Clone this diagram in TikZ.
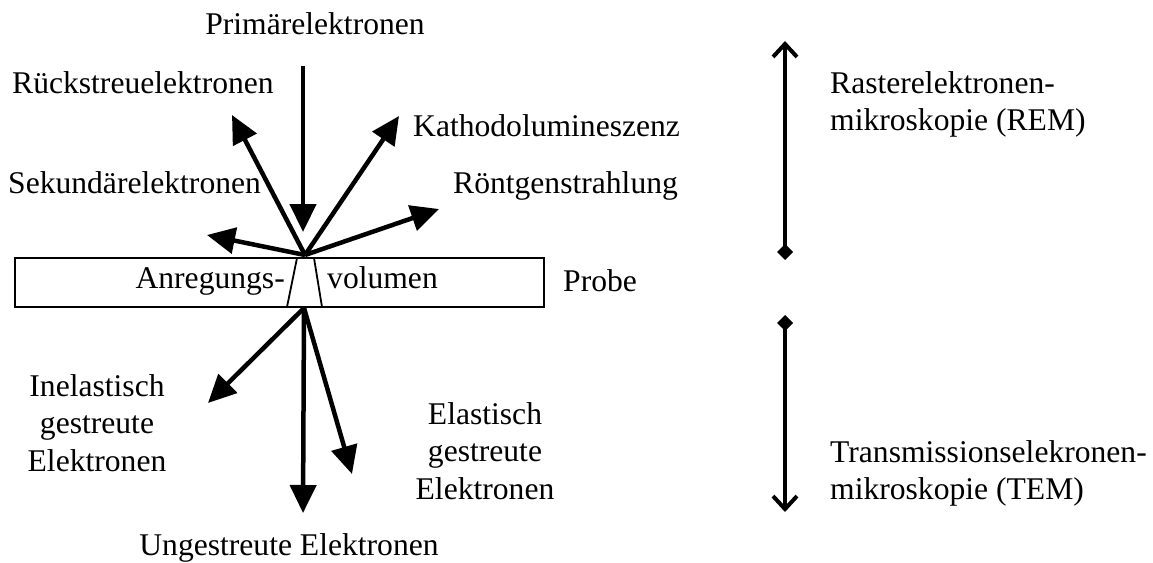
\documentclass[tikz,border=0pt]{standalone}
\usepackage{fontspec}
\setmainfont{Liberation Serif}
\usetikzlibrary{arrows.meta}
\begin{document}
\begin{tikzpicture}[x=1pt,y=-1pt,
  txt/.style={inner sep=0pt, font=\fontsize{31.6}{37.5}\selectfont},
  ray/.style={line width=4.5pt, -{Triangle[length=28pt,width=26pt]}},
  rangearrow/.style={line width=4pt, {Diamond[length=16pt,width=16pt]}-{Straight Barb[length=13pt,width=24pt]}}]
\useasboundingbox (0,0) rectangle (1153,562);
% sample
\draw[line width=2.7pt] (15,258) rectangle (544,307);
\coordinate (tl) at (297,258);
\coordinate (tr) at (314,258);
\coordinate (bl) at (287,307);
\coordinate (br) at (322,307);
\draw[line width=1.8pt] (tl) -- (bl) (tr) -- (br);
% sources
\coordinate (src) at (305,255);
\coordinate (bsrc) at (304,308);
\coordinate (pstart) at (303,66);
\coordinate (ptip) at (303,232);
\coordinate (rtip) at (232,115);
\coordinate (ktip) at (399,116);
\coordinate (stip) at (207,235);
\coordinate (xtip) at (439,209);
\coordinate (itip) at (208,403);
\coordinate (utip) at (303,513);
\coordinate (etip) at (352,474);
\draw[ray] (pstart) -- (ptip);
\draw[ray] (src) -- (rtip);
\draw[ray] (src) -- (ktip);
\draw[ray] (src) -- (stip);
\draw[ray] (src) -- (xtip);
\draw[ray] (bsrc) -- (itip);
\draw[ray] (bsrc) -- (utip);
\draw[ray] (bsrc) -- (etip);
% texts
\node[txt, anchor=base] (prim) at (315,34) {Primärelektronen};
\node[txt, anchor=base west] (rueck) at (12,93) {Rückstreuelektronen};
\node[txt, anchor=base west] (kath) at (413,136) {Kathodolumineszenz};
\node[txt, anchor=base west] (sek) at (8,193) {Sekundärelektronen};
\node[txt, anchor=base west] (roent) at (453,193) {Röntgenstrahlung};
\node[txt, anchor=base east] (anr) at (285,288) {Anregungs-};
\node[txt, anchor=base west] (vol) at (327,288) {volumen};
\node[txt, anchor=base west] (probe) at (563,291) {Probe};
\node[txt, anchor=north, align=center] (inel) at (97,374) {Inelastisch\\gestreute\\Elektronen};
\node[txt, anchor=north, align=center] (elas) at (485,402) {Elastisch\\gestreute\\Elektronen};
\node[txt, anchor=base] (unge) at (289,555) {Ungestreute Elektronen};
\node[txt, anchor=north west, align=left] (rem) at (830,71) {Rasterelektronen-\\mikroskopie (REM)};
\node[txt, anchor=north west, align=left] (tem) at (830,440) {Transmissionselekronen-\\mikroskopie (TEM)};
% ranges
\coordinate (remtop) at (785,41);
\coordinate (rembot) at (785,260);
\coordinate (temtop) at (785,315);
\coordinate (tembot) at (785,512);
\draw[rangearrow] (rembot) -- (remtop);
\draw[rangearrow] (temtop) -- (tembot);
\end{tikzpicture}
\end{document}
